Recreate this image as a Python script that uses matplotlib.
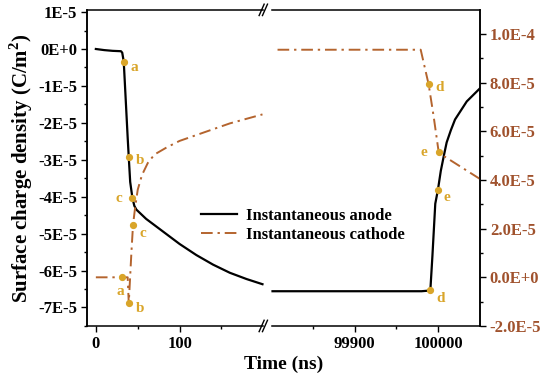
import numpy as np
import matplotlib
matplotlib.use("Agg")
import matplotlib.pyplot as plt
from matplotlib.scale import FuncScale

plt.rcParams['font.family'] = ['Liberation Serif', 'DejaVu Serif']
plt.rcParams['font.weight'] = 'bold'
plt.rcParams['mathtext.fontset'] = 'custom'
plt.rcParams['mathtext.rm'] = 'Liberation Serif:bold'
plt.rcParams['mathtext.bf'] = 'Liberation Serif:bold'

# anode (left axis, C/m^2)
anode_t1 = [0, 10, 20, 30, 31.5, 33.3, 35.5, 38, 39.3, 41, 43.7, 46, 48.4,
            60, 80, 100, 120, 140, 160, 180, 199]
anode_y1 = [0, -0.03, -0.05, -0.06, -0.1, -0.34, -1.3, -2.4, -2.93, -3.6, -4.04,
            -4.25, -4.35, -4.6, -4.94, -5.28, -5.58, -5.84, -6.06, -6.23, -6.37]
anode_t2 = [99802, 99900, 99980, 99990.5, 99993, 99996.4, 99999.6, 100003,
            100007, 100010, 100015, 100020, 100034, 100050]
anode_y2 = [-6.56, -6.56, -6.56, -6.54, -5.6, -4.19, -3.81, -3.3, -2.85, -2.53,
            -2.2, -1.91, -1.42, -1.06]

# cathode (right axis, C/m^2)
cath_t1 = [0, 31.8, 38, 39.3, 42.5, 44.4, 47, 50, 55, 62, 70, 85, 100, 120,
           140, 160, 180, 199]
cath_y1 = [0, 0, 0, -1.07, 1.05, 2.16, 2.9, 3.6, 4.2, 4.7, 5.05, 5.35, 5.61,
           5.85, 6.09, 6.33, 6.52, 6.7]
cath_t2 = [99808, 99900, 99979, 99988.5, 99994.4, 100000.4, 100006, 100050]
cath_y2 = [9.36, 9.36, 9.36, 7.93, 6.63, 5.17, 5.0, 4.04]

# labelled points: (label, t, value, dx, dy)
anode_pts = [('a', 33.3, -0.34, 5, -7), ('b', 39.3, -2.93, 5, -5),
             ('c', 43.7, -4.04, -12, -3), ('d', 99990.5, -6.54, 4, -8),
             ('e', 99999.6, -3.81, 4, -8)]
cath_pts = [('a', 31.8, 0.0, -4, -13), ('b', 39.3, -1.07, 5, -6),
            ('c', 44.4, 2.16, 5, -9), ('d', 99988.5, 7.93, 5, -5),
            ('e', 100000.4, 5.17, -13, -3)]

left_ticks = [1, 0, -1, -2, -3, -4, -5, -6, -7]
left_labels = ['1E-5', '0E+0', '-1E-5', '-2E-5', '-3E-5', '-4E-5', '-5E-5',
               '-6E-5', '-7E-5']
right_ticks = [10, 8, 6, 4, 2, 0, -2]
right_labels = ['1.0E-4', '8.0E-5', '6.0E-5', '4.0E-5', '2.0E-5', '0.0E+0',
                '-2.0E-5']
x_ticks = [0, 100, 99900, 100000]
x_labels = ['0', '100', '99900', '100000']

L1, R0, G = 201.0, 99800.0, 8.0


def fwd(x):
    x = np.asarray(x, dtype=float)
    return np.where(x > 50000, x - R0 + L1 + G, x)


def inv(u):
    u = np.asarray(u, dtype=float)
    return np.where(u > L1 + G / 2, u + R0 - L1 - G, u)


anode_c = 'black'
cath_c = '#B4642E'
pt_c = '#D9A52A'
tick_c = '#A0522D'

fig = plt.figure(figsize=(5.5, 3.79), dpi=100)
ax = fig.add_axes([0.158, 0.14, 0.715, 0.834])
ax.set_xscale(FuncScale(ax, (fwd, inv)))
ax2 = ax.twinx()

e5 = 1e-5
ax.plot(anode_t1, np.array(anode_y1) * e5, color=anode_c, lw=1.6)
l1, = ax.plot(anode_t2, np.array(anode_y2) * e5, color=anode_c, lw=1.6,
              label='Instantaneous anode')
dash = [6, 2.5, 1.2, 2.5]
ax2.plot(cath_t1, np.array(cath_y1) * e5, color=cath_c, lw=1.4, dashes=dash)
l2, = ax2.plot(cath_t2, np.array(cath_y2) * e5, color=cath_c, lw=1.4,
               dashes=dash, label='Instantaneous cathode')

for a, pts in ((ax, anode_pts), (ax2, cath_pts)):
    for lab, t, v, dx, dy in pts:
        a.plot([t], [v * e5], 'o', color=pt_c, ms=4.2, zorder=5)
        a.annotate(lab, (t, v * e5), xytext=(dx, dy), textcoords='offset points',
                   color=pt_c, fontsize=11, fontweight='bold')

ax.set_xlim(-10.7, 100050)
ax.set_ylim(-7.5e-5, 1.06e-5)
ax2.set_ylim(-2e-5, 1.1e-4)

ax.set_xticks(x_ticks)
ax.set_xticklabels(x_labels)
ax.set_xticks([50, 150, 99850, 99950], minor=True)
ax.set_yticks(np.array(left_ticks) * e5)
ax.set_yticklabels(left_labels)
ax.set_yticks((np.arange(-7.5, 1.0, 1.0)) * e5, minor=True)
ax2.set_yticks(np.array(right_ticks) * e5)
ax2.set_yticklabels(right_labels, color=tick_c)
ax2.set_yticks(np.arange(-1, 11, 2) * e5, minor=True)

for a in (ax, ax2):
    a.tick_params(which='major', direction='out', length=4, width=1,
                  labelsize=12, pad=3)
    a.tick_params(which='minor', direction='out', length=2.5, width=1)
    for s in a.spines.values():
        s.set_linewidth(1.1)

# broken axis: redraw top and bottom spines in two pieces with // marks
for a in (ax, ax2):
    a.spines['top'].set_visible(False)
    a.spines['bottom'].set_visible(False)
tr = ax.get_xaxis_transform()
for yy in (0, 1):
    ax.plot([-10.7, L1 - 1], [yy, yy], color='k', lw=1.1, transform=tr,
            clip_on=False, zorder=6)
    ax.plot([R0 + 1, 100050], [yy, yy], color='k', lw=1.1, transform=tr,
            clip_on=False, zorder=6)
    for xb in (L1 - 3, L1 + 1):
        ax.plot([xb - 3, xb + 3], [yy - 0.018, yy + 0.018], color='k', lw=1.0,
                transform=tr, clip_on=False, zorder=6)

ax.set_xlabel('Time (ns)', fontsize=14, fontweight='bold', labelpad=3)
ax.set_ylabel('Surface charge density (C/m$^{2}$)', fontsize=15,
              fontweight='bold', labelpad=2)

ax.legend(handles=[l1, l2], loc='upper left', bbox_to_anchor=(0.268, 0.40),
          frameon=False, fontsize=12, handlelength=2.2, handletextpad=0.55,
          labelspacing=0.2, borderpad=0)

fig.savefig('out.png', dpi=100)
